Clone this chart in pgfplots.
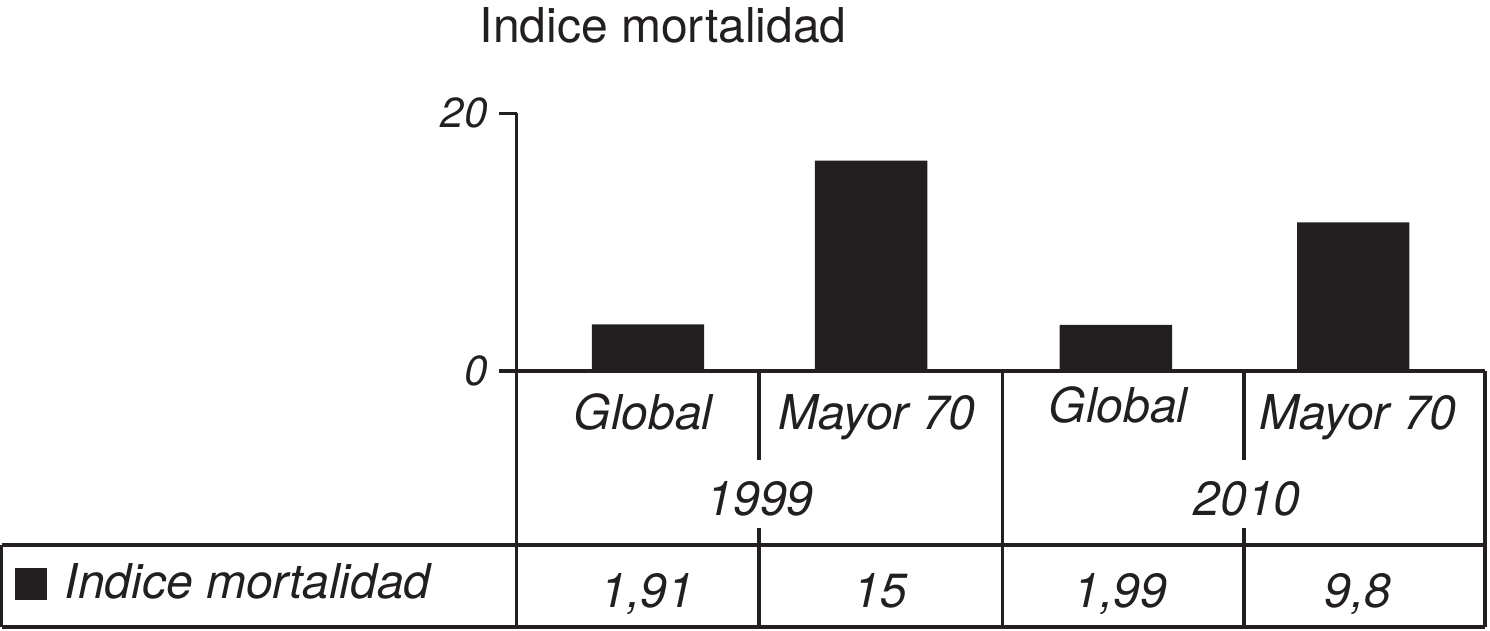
\documentclass[border=0pt]{standalone}
\usepackage{pgfplots}
\pgfplotsset{compat=1.18}
\usepackage{fontspec}
\setmainfont{TeX Gyre Heros}
\definecolor{ink}{HTML}{231F20}
\begin{document}
\begin{tikzpicture}
\begin{scope}[x=0.5pt,y=-0.5pt]
\path[use as bounding box] (0,0) rectangle (1490,631);
\end{scope}
\begin{axis}[
  at={(258.35pt,-185.5pt)}, anchor=south west,
  scale only axis, width=484.15pt, height=128.85pt,
  xmin=0, xmax=4, ymin=0, ymax=20,
  axis y line*=left, axis x line=none,
  axis line style={line width=1.6pt, color=ink},
  xtick=\empty, ytick={0,20},
  tick align=outside, major tick length=9pt,
  every tick/.style={line width=1.6pt, color=ink},
  /pgf/number format/assume math mode=true,
  yticklabel style={font=\fontsize{21}{24}\selectfont\itshape, color=ink, inner sep=0pt, xshift=-5.5pt},
  clip=false,
]
\addplot[ybar, bar width=0.464, fill=ink, draw=none] coordinates {
  (0.542,3.62) (1.464,16.32) (2.475,3.57) (3.456,11.54)
};
\end{axis}
\begin{scope}[x=0.5pt,y=-0.5pt, line width=1.6pt, color=ink]
% table lines
\draw (516.7,371)--(1485,371);
\draw (516.7,371)--(516.7,627);
\draw (1485,371)--(1485,627);
\draw (1002.7,371)--(1002.7,627);
\draw (759,371)--(759,460);
\draw (759,528)--(759,627);
\draw (1244,371)--(1244,460);
\draw (1244,528)--(1244,627);
\draw (1.5,545)--(1485,545);
\draw (1.5,627)--(1485,627);
\draw (1.5,545)--(1.5,627);
% texts
\node[anchor=base west, inner sep=0pt, font=\fontsize{24}{28}\selectfont] at (478,42.5) {Indice mortalidad};
\begin{scope}[every node/.style={anchor=base, inner sep=0pt, font=\fontsize{24}{28}\selectfont\itshape}]
\node at (643,430) {Global};
\node at (877,430) {Mayor 70};
\node at (1118,422.5) {Global};
\node at (1358,430) {Mayor 70};
\node at (760,516) {1999};
\node at (1247,516) {2010};
\node at (647,608) {1,91};
\node at (880,608) {15};
\node at (1120,608) {1,99};
\node at (1358,608) {9,8};
\node[anchor=base west] at (63,599) {Indice mortalidad};
\end{scope}
\fill (14.5,568) rectangle (47,600);
\end{scope}
\end{tikzpicture}
\end{document}
